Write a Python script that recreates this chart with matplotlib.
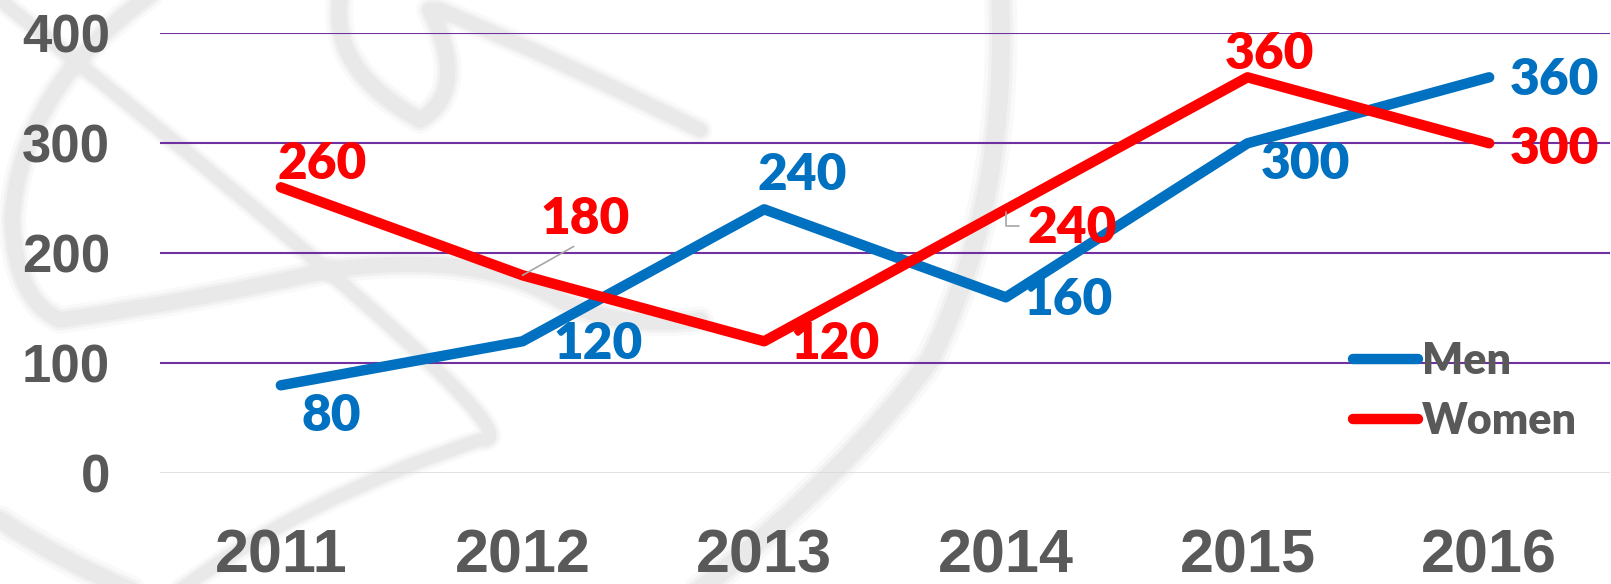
import matplotlib
matplotlib.use("Agg")
import matplotlib.pyplot as plt
from matplotlib.path import Path
from matplotlib.patches import PathPatch

years = ["2011", "2012", "2013", "2014", "2015", "2016"]
men = [80, 120, 240, 160, 300, 360]
women = [260, 180, 120, 240, 360, 300]
yticks = [0, 100, 200, 300, 400]

# label offsets in pixels (dx, dy)
men_off = [(50, -31), (76, -3), (38, 34), (62, -3), (58, -21), (65, -3)]
women_off = [(41, 23), (63, 56), (71, -3), (66, -19), (22, 23), (65, -6)]

BLUE = "#0070C0"
RED = "#FF0000"
GRAY = "#595959"
PURPLE = "#7030A0"

fig = plt.figure(figsize=(16.11, 5.84), dpi=100)

# faint watermark strokes (decorative background)
bg = fig.add_axes([0, 0, 1, 1], zorder=0)
bg.set_xlim(0, 1611)
bg.set_ylim(584, 0)
bg.axis("off")


def soft_curve(pts, lw=12):
    codes = [Path.MOVETO] + [Path.CURVE3] * (len(pts) - 1)
    path = Path(pts, codes)
    for w, a in [(lw * 1.8, 0.25), (lw * 1.35, 0.45), (lw, 1.0)]:
        bg.add_patch(PathPatch(path, fc="none", ec="#e9e9e9", lw=w, alpha=a,
                               capstyle="round", joinstyle="round"))


soft_curve([(1000, -10), (1010, 200), (930, 360), (850, 470), (700, 590)], lw=13)
soft_curve([(150, -5), (20, 90), (12, 220), (15, 300), (60, 320), (200, 300), (330, 270)], lw=11)
soft_curve([(330, 270), (480, 250), (560, 300), (620, 330), (700, 320)], lw=11)
soft_curve([(340, 0), (330, 70), (420, 120), (470, 90), (430, 10)], lw=11)
soft_curve([(440, 10), (560, 60), (700, 130)], lw=10)
soft_curve([(0, 520), (60, 560), (130, 590)], lw=12)
soft_curve([(180, 590), (300, 500), (480, 440), (560, 450)], lw=9)

ax = fig.add_axes([160 / 1611, 1 - 473.3 / 584, 1450 / 1611, (473.3 - 33.3) / 584], zorder=1)
ax.patch.set_alpha(0)
x = list(range(len(years)))

ax.set_xlim(-0.5, len(years) - 0.5)
ax.set_ylim(0, 400)
ax.set_yticks(yticks)
for y in yticks:
    if y == 0:
        ax.axhline(y, color="#D9D9D9", lw=1.8, zorder=1)
    else:
        ax.axhline(y, color=PURPLE, lw=1.5, zorder=1)

ax.plot(x, men, color=BLUE, lw=7.5, solid_capstyle="round", solid_joinstyle="round", label="Men", zorder=3)
ax.plot(x, women, color=RED, lw=7.5, solid_capstyle="round", solid_joinstyle="round", label="Women", zorder=4)

lab_font = dict(family=["Lato", "DejaVu Sans"], fontsize=37, fontweight="heavy")

for i, (v, off) in enumerate(zip(men, men_off)):
    ax.annotate(str(v), (i, v), xytext=off, textcoords="offset pixels",
                ha="center", va="center", color=BLUE, zorder=6, **lab_font)

for i, (v, off) in enumerate(zip(women, women_off)):
    kw = {}
    if i == 1:
        kw["arrowprops"] = dict(arrowstyle="-", color="#A6A6A6", lw=1.2,
                                relpos=(0.45, 0.0), shrinkA=2, shrinkB=0)
    if i == 3:
        kw["arrowprops"] = dict(arrowstyle="-", color="#A6A6A6", lw=1.2,
                                connectionstyle="angle,angleA=180,angleB=90,rad=0",
                                relpos=(0.0, 0.55), shrinkA=4, shrinkB=2)
    ax.annotate(str(v), (i, v), xytext=off, textcoords="offset pixels",
                ha="center", va="center", color=RED, zorder=6, **lab_font, **kw)

ax.set_xticks(x)
ax.set_xticklabels(years)
for s in ax.spines.values():
    s.set_visible(False)
ax.tick_params(axis="both", length=0)
ax.tick_params(axis="y", pad=36)
ax.tick_params(axis="x", pad=40)
for t in ax.get_yticklabels():
    t.set_family(["Liberation Sans", "DejaVu Sans"])
    t.set_fontsize(38)
    t.set_fontweight("bold")
    t.set_color(GRAY)
for t in ax.get_xticklabels():
    t.set_family(["Liberation Sans", "DejaVu Sans"])
    t.set_fontsize(44)
    t.set_fontweight("bold")
    t.set_color(GRAY)

leg = ax.legend(loc="center left", bbox_to_anchor=(1353 / 1611, 1 - 391 / 584),
                bbox_transform=fig.transFigure, frameon=False,
                prop=dict(family=["Lato", "DejaVu Sans"], size=31, weight="heavy"),
                handlelength=1.5, handletextpad=0.1, labelspacing=0.45,
                borderpad=0, borderaxespad=0)
for t in leg.get_texts():
    t.set_color(GRAY)
leg.set_zorder(7)

fig.savefig("out.png", dpi=100)
